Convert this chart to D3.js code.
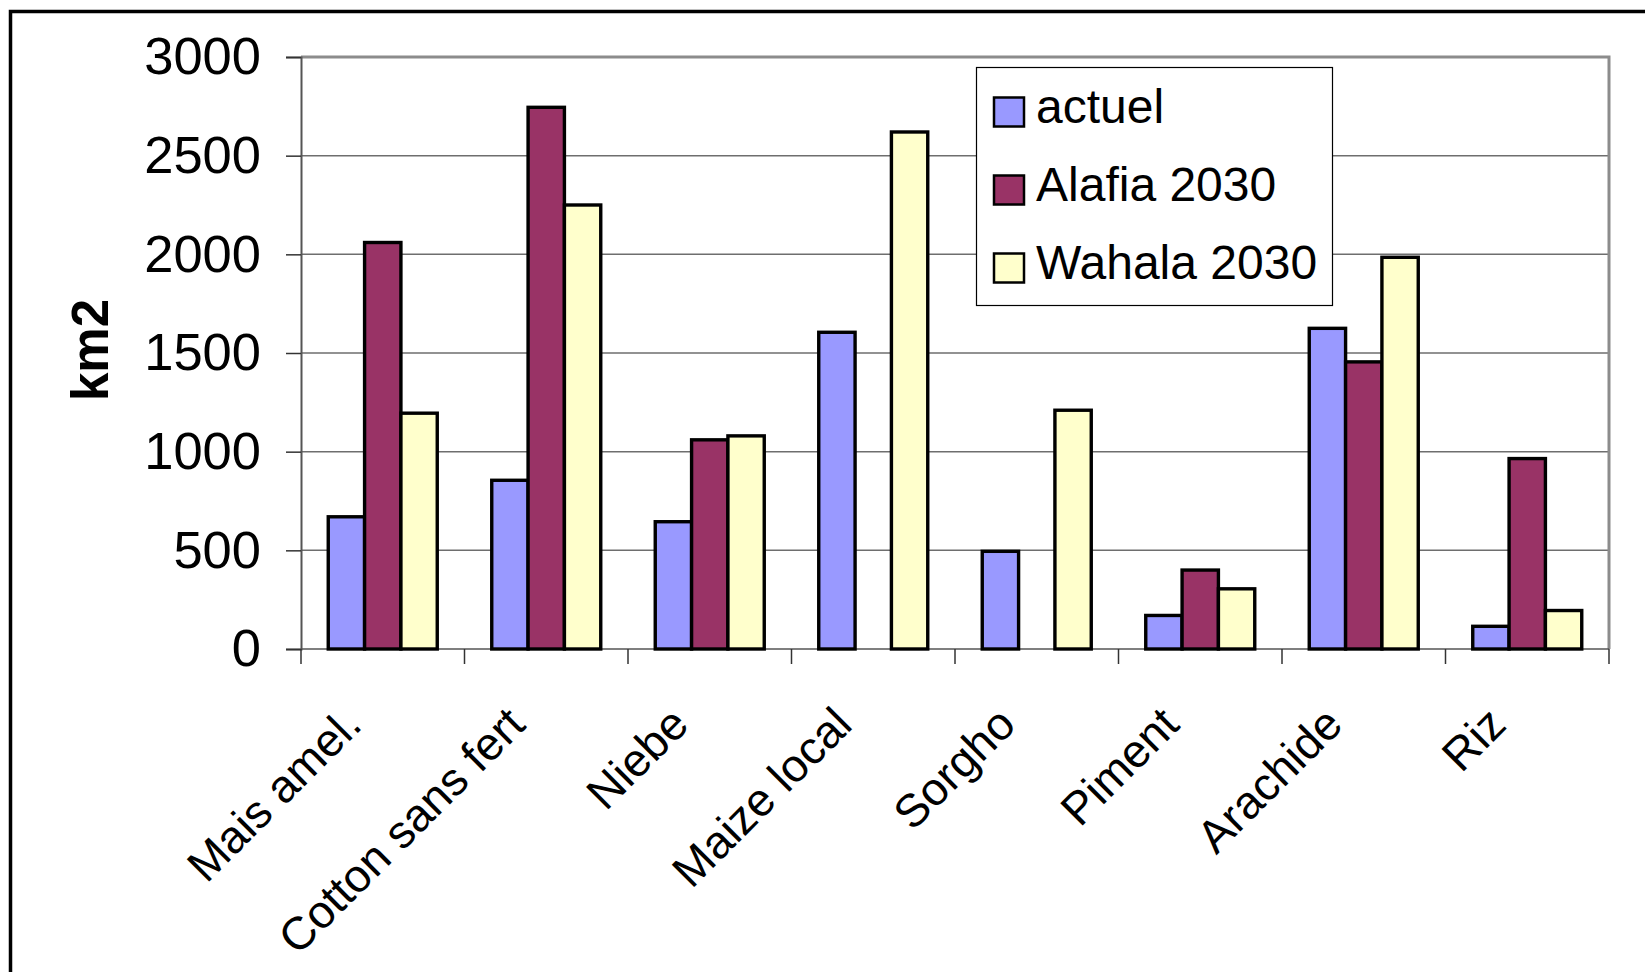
<!DOCTYPE html>
<html>
<head>
<meta charset="utf-8">
<script src="https://cdn.jsdelivr.net/npm/d3@7/dist/d3.min.js"></script>
<style>
  html, body { margin: 0; padding: 0; background: #fff; }
  svg { display: block; }
  text { font-family: "Liberation Sans", Arial, sans-serif; fill: #000; }
</style>
</head>
<body>
<svg id="chart" width="1645" height="972"></svg>
<script>
// Crop areas (km2) per scenario
const categories = ["Mais amel.", "Cotton sans fert", "Niebe", "Maize local", "Sorgho", "Piment", "Arachide", "Riz"];
const seriesNames = ["actuel", "Alafia 2030", "Wahala 2030"];
const actuel = [670, 855, 645, 1605, 495, 170, 1625, 115];
const alafia2030 = [2060, 2745, 1060, 0, 0, 400, 1455, 965];
const wahala2030 = [1195, 2250, 1080, 2620, 1210, 305, 1985, 195];
const yTicks = [0, 500, 1000, 1500, 2000, 2500, 3000];
const seriesColors = ["#9999FF", "#993366", "#FFFFCC"];
const yTitle = "km2";

const seriesValues = [actuel, alafia2030, wahala2030];
const rows = categories.map((c, i) => ({
  cat: c,
  values: seriesNames.map((s, k) => ({ series: s, value: seriesValues[k][i] }))
}));

const svg = d3.select("#chart");
const plot = { left: 301, right: 1609, top: 57, bottom: 649 };

// Outer chart frame
svg.append("rect")
  .attr("x", 10.5).attr("y", 11.5)
  .attr("width", 1700).attr("height", 1000)
  .attr("fill", "#fff").attr("stroke", "#000").attr("stroke-width", 3.5);

const x0 = d3.scaleBand()
  .domain(categories)
  .range([plot.left, plot.right])
  .paddingInner(1 / 3)
  .paddingOuter(1 / 6);
const x1 = d3.scaleBand()
  .domain(seriesNames)
  .range([0, x0.bandwidth()]);
const y = d3.scaleLinear().domain([0, 3000]).range([plot.bottom, plot.top]);
const color = d3.scaleOrdinal().domain(seriesNames).range(seriesColors);

// Horizontal gridlines
svg.append("g")
  .selectAll("line")
  .data(yTicks.filter(t => t > 0 && t < 3000))
  .join("line")
  .attr("x1", plot.left).attr("x2", plot.right)
  .attr("y1", d => y(d)).attr("y2", d => y(d))
  .attr("stroke", "#6e6e6e").attr("stroke-width", 1.5);

// Plot area border (top and right)
svg.append("path")
  .attr("d", `M${plot.left},${y(3000)}H${plot.right}V${plot.bottom}`)
  .attr("fill", "none").attr("stroke", "#8c8c8c").attr("stroke-width", 3);

// Y axis
const yAxis = d3.axisLeft(y)
  .tickValues(yTicks)
  .tickSize(15)
  .tickPadding(25)
  .tickFormat(d3.format("d"));
const gy = svg.append("g")
  .attr("transform", `translate(${plot.left},0)`)
  .call(yAxis);
gy.select(".domain").attr("stroke", "#555").attr("stroke-width", 2);
gy.selectAll(".tick line").attr("stroke", "#333").attr("stroke-width", 1.5);
gy.selectAll(".tick text")
  .attr("font-size", 52.5)
  .attr("font-family", "Liberation Sans, Arial, sans-serif")
  .attr("fill", "#000");

// Category boundary ticks along the x axis
const step = x0.step();
const bounds = d3.range(categories.length + 1).map(i => plot.left + i * step);
svg.append("line")
  .attr("x1", plot.left).attr("x2", plot.right)
  .attr("y1", y(0)).attr("y2", y(0))
  .attr("stroke", "#555").attr("stroke-width", 1.5);
svg.append("g")
  .selectAll("line")
  .data(bounds)
  .join("line")
  .attr("x1", d => d).attr("x2", d => d)
  .attr("y1", y(0)).attr("y2", y(0) + 15)
  .attr("stroke", "#333").attr("stroke-width", 1.5);

// Bars
svg.append("g")
  .selectAll("g")
  .data(rows)
  .join("g")
  .attr("transform", d => `translate(${x0(d.cat)},0)`)
  .selectAll("rect")
  .data(d => d.values.filter(v => v.value > 0))
  .join("rect")
  .attr("x", d => x1(d.series))
  .attr("y", d => y(d.value))
  .attr("width", x1.bandwidth())
  .attr("height", d => y(0) - y(d.value))
  .attr("fill", d => color(d.series))
  .attr("stroke", "#000")
  .attr("stroke-width", 3.4);

// Category labels, rotated
svg.append("g")
  .selectAll("text")
  .data(categories)
  .join("text")
  .attr("transform", c => `translate(${x0(c) + x0.bandwidth() / 2 - 19},${y(0) + 78}) rotate(-45)`)
  .attr("text-anchor", "end")
  .attr("font-size", 46)
  .text(c => c);

// Y axis title
svg.append("text")
  .attr("transform", `translate(108,350) rotate(-90)`)
  .attr("text-anchor", "middle")
  .attr("font-size", 51)
  .attr("font-weight", "bold")
  .text(yTitle);

// Legend
const legend = svg.append("g");
legend.append("rect")
  .attr("x", 976.5).attr("y", 67.5)
  .attr("width", 356).attr("height", 238)
  .attr("fill", "#fff").attr("stroke", "#000").attr("stroke-width", 1.2);
const item = legend.selectAll("g.item")
  .data(seriesNames)
  .join("g")
  .attr("class", "item")
  .attr("transform", (d, i) => `translate(0,${112 + i * 78})`);
item.append("rect")
  .attr("x", 994).attr("y", -14.5)
  .attr("width", 30).attr("height", 29)
  .attr("fill", d => color(d))
  .attr("stroke", "#000").attr("stroke-width", 2.5);
item.append("text")
  .attr("x", 1036).attr("y", 11)
  .attr("font-size", 48)
  .text(d => d);
</script>
</body>
</html>
